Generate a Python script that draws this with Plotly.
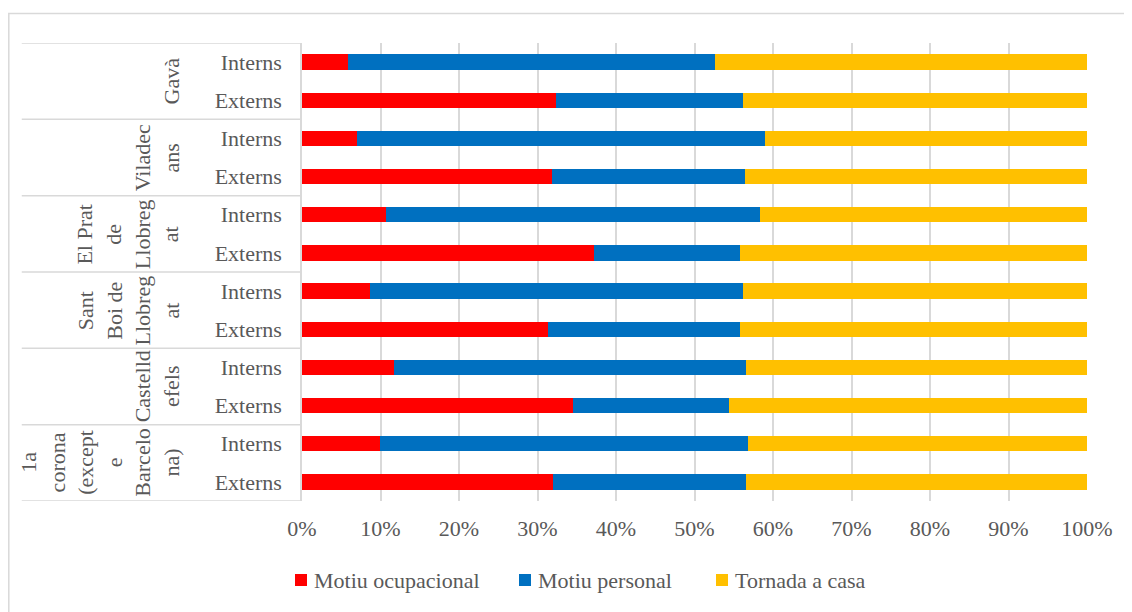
import plotly.graph_objects as go

# Dades
municipis = ['Gavà', 'Viladecans', 'El Prat de Llobregat', 'Sant Boi de Llobregat',
             'Castelldefels', '1a corona (excepte Barcelona)']
etiquetes_municipi = ['Gavà', 'Viladec<br>ans', 'El Prat<br>de<br>Llobreg<br>at',
                      'Sant<br>Boi de<br>Llobreg<br>at', 'Castelld<br>efels',
                      '1a<br>corona<br>(except<br>e<br>Barcelo<br>na)']
tipus = ['Interns', 'Externs']

motiu_ocupacional = [5.9, 32.3, 7.0, 31.8, 10.7, 37.2, 8.7, 31.4, 11.7, 34.5, 9.9, 32.0]
motiu_personal = [46.7, 23.9, 52.0, 24.6, 47.7, 18.6, 47.5, 24.4, 44.8, 19.9, 46.9, 24.6]
tornada_a_casa = [47.4, 43.8, 41.0, 43.6, 41.6, 44.2, 43.8, 44.2, 43.5, 45.6, 43.2, 43.4]

series = [('Motiu ocupacional', motiu_ocupacional, '#FF0000'),
          ('Motiu personal', motiu_personal, '#0070C0'),
          ('Tornada a casa', tornada_a_casa, '#FFC000')]

categories = [m + '|' + t for m in municipis for t in tipus]
etiquetes_y = [t for m in municipis for t in tipus]

FONT = 'Liberation Serif, Tinos, DejaVu Serif, serif'
GRIS = '#595959'
LINIA = '#d9d9d9'
MIDA = 22

fig = go.Figure()
for nom, valors, color in series:
    fig.add_trace(go.Bar(y=categories, x=valors, name=nom, orientation='h',
                         marker=dict(color=color, line=dict(width=0)),
                         showlegend=False))

# la pàgina té 8px de marge al body
fig.update_layout(
    barmode='stack', barnorm='percent', bargap=0.6,
    width=1124, height=604,
    margin=dict(l=294, r=45, t=35, b=111),
    paper_bgcolor='white', plot_bgcolor='white',
    font=dict(family=FONT, size=MIDA, color=GRIS),
)
fig.update_xaxes(range=[0, 100], dtick=10, ticksuffix='%', showgrid=True,
                 gridcolor=LINIA, gridwidth=1.5, zeroline=False,
                 ticklabelstandoff=12, tickfont=dict(family=FONT, size=MIDA, color=GRIS))
fig.update_yaxes(type='category', categoryarray=categories, range=[len(categories) - 0.5, -0.5],
                 tickmode='array', tickvals=categories, ticktext=etiquetes_y,
                 showline=True, linecolor=LINIA, linewidth=1.5, showgrid=False,
                 ticklabelstandoff=14, tickfont=dict(family=FONT, size=MIDA, color=GRIS))

# Etiquetes de municipi (girades) i línies separadores
x_esq = -0.357
for i, etiqueta in enumerate(etiquetes_municipi):
    fig.add_annotation(x=-0.148, y=2 * i + 0.5, xref='paper', yref='y', text=etiqueta,
                       textangle=-90, showarrow=False, xanchor='right', yanchor='middle',
                       align='center', font=dict(family=FONT, size=MIDA, color=GRIS))
for i in range(len(municipis) + 1):
    fig.add_shape(type='line', xref='paper', yref='y', x0=x_esq, x1=0,
                  y0=2 * i - 0.5, y1=2 * i - 0.5, line=dict(color=LINIA, width=1.5))

# Marc del gràfic
fig.add_shape(type='rect', xref='paper', yref='paper', x0=-0.3735, x1=1.07,
              y0=-0.27, y1=1.0645, line=dict(color=LINIA, width=1.5))

# Llegenda (quadrat + text)
x_quadrat = [-0.0089, 0.2764, 0.5274]
y_llegenda = -0.1725
mida_q = 12
for (nom, valors, color), xq in zip(series, x_quadrat):
    fig.add_shape(type='rect', xref='paper', yref='paper',
                  x0=xq, x1=xq + mida_q / 785,
                  y0=y_llegenda - mida_q / 2 / 458, y1=y_llegenda + mida_q / 2 / 458,
                  fillcolor=color, line=dict(width=0))
    fig.add_annotation(x=xq + (mida_q + 5) / 785, y=y_llegenda, xref='paper', yref='paper',
                       showarrow=False, xanchor='left', yanchor='middle', text=nom,
                       font=dict(family=FONT, size=MIDA, color=GRIS))

fig.write_html('out.html')
